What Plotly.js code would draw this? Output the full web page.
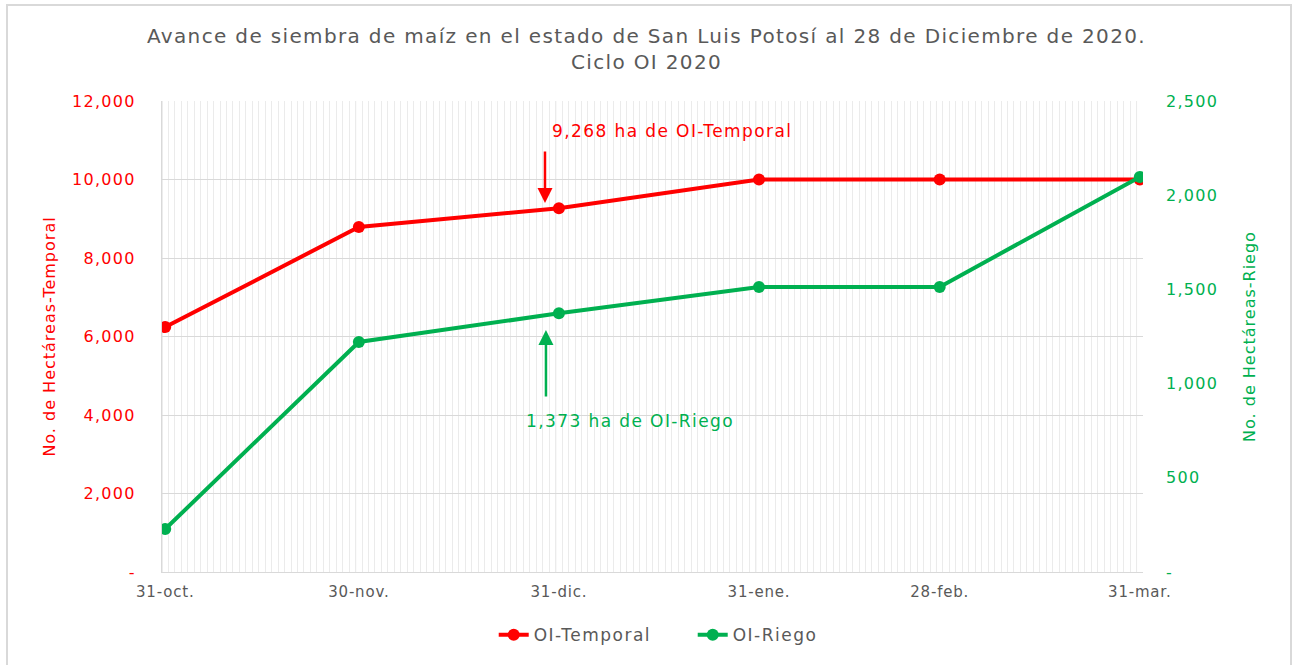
<!DOCTYPE html>
<html>
<head>
<meta charset="utf-8">
<script src="https://cdn.plot.ly/plotly-3.0.1.min.js"></script>
<style>
html,body{margin:0;padding:0;background:#fff;}
#wrap{position:relative;width:1293px;height:665px;overflow:hidden;}
#chart{width:1293px;height:665px;}
svg text{letter-spacing:1.3px;}
svg text.gtitle{letter-spacing:1.35px;}
svg .xtick text, svg text.xtick{letter-spacing:0.8px;}
svg text.ytitle, svg text.y2title{letter-spacing:1px;}
svg text.legendtext{letter-spacing:1.5px;}
svg text.annotation-text{letter-spacing:1.4px;}
#frame{position:absolute;left:6px;top:4px;width:1282px;height:700px;border:2px solid #d9d9d9;pointer-events:none;}
</style>
</head>
<body>
<div id="wrap"><div id="chart"></div><div id="frame"></div></div>
<script>
const dates = ['2020-10-31','2020-11-30','2020-12-31','2021-01-31','2021-02-28','2021-03-31'];
const dateLabels = ['31-oct.','30-nov.','31-dic.','31-ene.','28-feb.','31-mar.'];
const temporal = [6240, 8790, 9268, 10000, 10000, 10000];
const riego = [228, 1221, 1373, 1513, 1513, 2097];
const leftTicks = [0, 2000, 4000, 6000, 8000, 10000, 12000];
const leftTickText = ['-', '2,000', '4,000', '6,000', '8,000', '10,000', '12,000'];
const rightTicks = [0, 500, 1000, 1500, 2000, 2500];
const rightTickText = ['-', '500', '1,000', '1,500', '2,000', '2,500'];

const RED = '#FF0000', GREEN = '#00B050', GRAY = '#595959';
const FONT = 'DejaVu Sans';
const DAY = 86400000;
const half = d => new Date(new Date(d + 'T00:00:00Z').getTime() - DAY/2).toISOString().replace('T',' ').slice(0,19);
const last = new Date(new Date(dates[dates.length-1] + 'T00:00:00Z').getTime() + DAY/2).toISOString().replace('T',' ').slice(0,19);

const traces = [
  {x: dates, y: temporal, name: 'OI-Temporal', type: 'scatter', mode: 'lines+markers',
   line: {color: RED, width: 4}, marker: {color: RED, size: 12}, yaxis: 'y'},
  {x: dates, y: riego, name: 'OI-Riego', type: 'scatter', mode: 'lines+markers',
   line: {color: GREEN, width: 4}, marker: {color: GREEN, size: 12}, yaxis: 'y2'}
];

const shapes = dates.map(d => ({type: 'line', xref: 'x', yref: 'paper', x0: half(d), x1: half(d), y0: 0, y1: 1,
  line: {color: '#d9d9d9', width: 1}, layer: 'below'}));

const layout = {
  width: 1293, height: 665,
  paper_bgcolor: '#fff', plot_bgcolor: '#fff',
  margin: {l: 162, r: 150, t: 101, b: 93},
  font: {family: FONT, color: GRAY},
  title: {text: 'Avance de siembra de maíz en el estado de San Luis Potosí al 28 de Diciembre de 2020.<br>Ciclo OI 2020',
    font: {size: 20, color: GRAY, family: FONT}, x: 0.5, xanchor: 'center', y: 0.935, yanchor: 'middle'},
  xaxis: {type: 'date', range: [half(dates[0]), last], tickvals: dates, ticktext: dateLabels,
    showgrid: false, showline: true, linecolor: '#d9d9d9', linewidth: 1, ticks: '', zeroline: false,
    tickfont: {size: 15, color: GRAY, family: FONT}, ticklabelstandoff: 6,
    minor: {dtick: DAY, tick0: half(dates[0]), showgrid: true, gridcolor: '#ebebeb', gridwidth: 1}},
  yaxis: {range: [0, 12000], tickvals: leftTicks, ticktext: leftTickText, showgrid: true, gridcolor: '#d9d9d9',
    zeroline: false, showline: true, linecolor: '#d9d9d9', ticks: '', ticklabelstandoff: 22,
    tickfont: {size: 16, color: RED, family: FONT},
    title: {text: 'No. de Hectáreas-Temporal', font: {size: 16, color: RED, family: FONT}, standoff: 12}},
  yaxis2: {range: [0, 2500], overlaying: 'y', side: 'right', tickvals: rightTicks, ticktext: rightTickText,
    showgrid: false, zeroline: false, showline: false, ticks: '', ticklabelstandoff: 22,
    tickfont: {size: 16, color: GREEN, family: FONT},
    title: {text: 'No. de Hectáreas-Riego', font: {size: 16, color: GREEN, family: FONT}, standoff: 26}},
  legend: {orientation: 'h', x: 0.541, xanchor: 'center', y: -0.134, yanchor: 'middle', entrywidth: 154,
    font: {size: 17, color: GRAY, family: FONT}},
  shapes: shapes,
  annotations: [
    {xref: 'paper', yref: 'paper', x: 0.3955, y: 0.936, xanchor: 'left', yanchor: 'middle', showarrow: false,
     text: '9,268 ha de OI-Temporal', font: {size: 17, color: RED, family: FONT}},
    {xref: 'paper', yref: 'paper', x: 0.3904, y: 0.7834, ax: 0, ay: -53, showarrow: true, text: '',
     arrowhead: 2, arrowsize: 1.2, arrowwidth: 2.5, arrowcolor: RED},
    {xref: 'paper', yref: 'paper', x: 0.3914, y: 0.5138, ax: 0, ay: 68, showarrow: true, text: '',
     arrowhead: 2, arrowsize: 1.2, arrowwidth: 2.5, arrowcolor: GREEN},
    {xref: 'paper', yref: 'paper', x: 0.477, y: 0.3206, xanchor: 'center', yanchor: 'middle', showarrow: false,
     text: '1,373 ha de OI-Riego', font: {size: 17, color: GREEN, family: FONT}}
  ]
};

Plotly.newPlot('chart', traces, layout, {displayModeBar: false, staticPlot: true});
</script>
</body>
</html>
